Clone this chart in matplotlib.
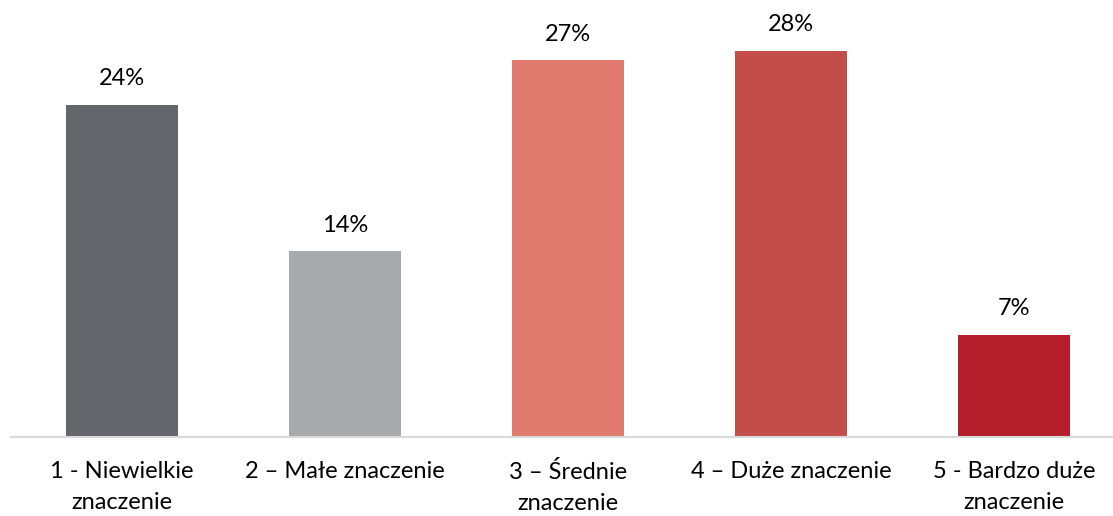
import matplotlib
matplotlib.use('Agg')
import matplotlib.pyplot as plt

plt.rcParams['font.family'] = ['Lato', 'DejaVu Sans']

# dane
categories = ['1 - Niewielkie\nznaczenie', '2 – Małe znaczenie', '3 – Średnie\nznaczenie',
              '4 – Duże znaczenie', '5 - Bardzo duże\nznaczenie']
values = [24.0, 13.4, 27.2, 27.9, 7.4]
labels = ['24%', '14%', '27%', '28%', '7%']
colors = ['#63666A', '#A7A9AC', '#E07A6E', '#C24D49', '#B41F2B']

fig = plt.figure(figsize=(11.13, 5.16), dpi=100)
ax = fig.add_axes([10.5 / 1113, 79 / 516, 1115 / 1113, 437 / 516])

x = range(len(categories))
bars = ax.bar(x, values, width=0.5, color=colors)
for b, lab in zip(bars, labels):
    ax.text(b.get_x() + b.get_width() / 2, b.get_height() + 1.1, lab,
            ha='center', va='bottom', fontsize=17, color='#000000')

ax.set_xlim(-0.5, 4.5)
ax.set_ylim(0, 31.55)
ax.set_xticks(list(x))
ax.set_xticklabels(categories, fontsize=17, linespacing=1.6)
ax.tick_params(axis='x', length=0, pad=17)
ax.set_yticks([])
for s in ['top', 'right', 'left']:
    ax.spines[s].set_visible(False)
ax.spines['bottom'].set_color('#D9D9D9')
ax.spines['bottom'].set_linewidth(1.5)

fig.savefig('out.png', dpi=100)
